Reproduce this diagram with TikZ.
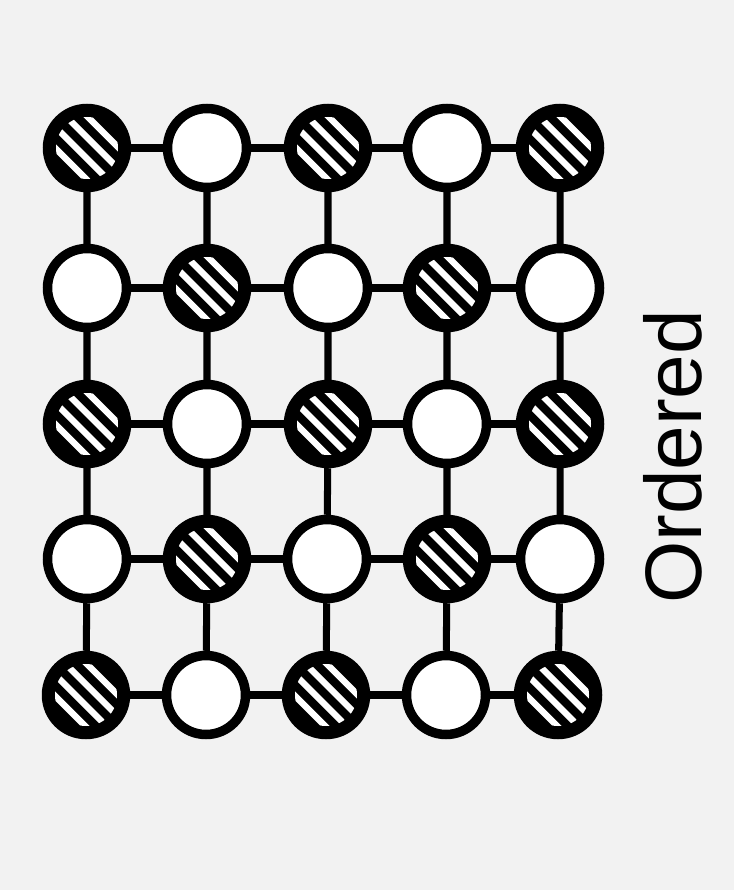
\documentclass[tikz,border=0pt]{standalone}
\usepackage{fontspec}
\setsansfont{Liberation Sans}
\usetikzlibrary{calc}

\begin{document}
\begin{tikzpicture}[
  site/.style={draw, circle, line width=2.7pt, minimum size=7.9mm, inner sep=0pt, fill=white},
  hatched/.style={site, fill=black, path picture={
      \clip (path picture bounding box.center) circle (0.31);
      \foreach \k in {-1.5,-0.5,0.5,1.5}
        \draw[white, line width=1.8pt]
          ($(path picture bounding box.center)+(\k*0.106-0.45,\k*0.106+0.45)$) --
          ($(path picture bounding box.center)+(\k*0.106+0.45,\k*0.106-0.45)$);}},
  bond/.style={line width=2pt},
  phase/.style={inner sep=0pt, font=\sffamily\fontsize{22.8}{26}\selectfont}
]
\fill[black!5] (0,0) rectangle (7.34,-8.9);
\useasboundingbox (0,0) rectangle (7.34,-8.9);

% Row 1
\node[hatched] (s11) at (0.87,-1.48) {};
\node[site]    (s12) at (2.07,-1.48) {};
\node[hatched] (s13) at (3.28,-1.48) {};
\node[site]    (s14) at (4.47,-1.48) {};
\node[hatched] (s15) at (5.60,-1.48) {};
% Row 2
\node[site]    (s21) at (0.87,-2.88) {};
\node[hatched] (s22) at (2.07,-2.88) {};
\node[site]    (s23) at (3.28,-2.88) {};
\node[hatched] (s24) at (4.47,-2.88) {};
\node[site]    (s25) at (5.60,-2.88) {};
% Row 3
\node[hatched] (s31) at (0.87,-4.24) {};
\node[site]    (s32) at (2.07,-4.24) {};
\node[hatched] (s33) at (3.28,-4.24) {};
\node[site]    (s34) at (4.47,-4.24) {};
\node[hatched] (s35) at (5.60,-4.24) {};
% Row 4
\node[site]    (s41) at (0.87,-5.59) {};
\node[hatched] (s42) at (2.07,-5.59) {};
\node[site]    (s43) at (3.27,-5.59) {};
\node[hatched] (s44) at (4.47,-5.59) {};
\node[site]    (s45) at (5.60,-5.59) {};
% Row 5
\node[hatched] (s51) at (0.86,-6.95) {};
\node[site]    (s52) at (2.06,-6.95) {};
\node[hatched] (s53) at (3.26,-6.95) {};
\node[site]    (s54) at (4.46,-6.95) {};
\node[hatched] (s55) at (5.58,-6.95) {};

% Horizontal bonds
\draw[bond] (s11) -- (s12) -- (s13) -- (s14) -- (s15);
\draw[bond] (s21) -- (s22) -- (s23) -- (s24) -- (s25);
\draw[bond] (s31) -- (s32) -- (s33) -- (s34) -- (s35);
\draw[bond] (s41) -- (s42) -- (s43) -- (s44) -- (s45);
\draw[bond] (s51) -- (s52) -- (s53) -- (s54) -- (s55);
% Vertical bonds
\draw[bond] (s11) -- (s21) -- (s31) -- (s41) -- (s51);
\draw[bond] (s12) -- (s22) -- (s32) -- (s42) -- (s52);
\draw[bond] (s13) -- (s23) -- (s33) -- (s43) -- (s53);
\draw[bond] (s14) -- (s24) -- (s34) -- (s44) -- (s54);
\draw[bond] (s15) -- (s25) -- (s35) -- (s45) -- (s55);

% Label
\node[phase, rotate=90] (ordered) at (6.73,-4.57) {Ordered};
\end{tikzpicture}
\end{document}
